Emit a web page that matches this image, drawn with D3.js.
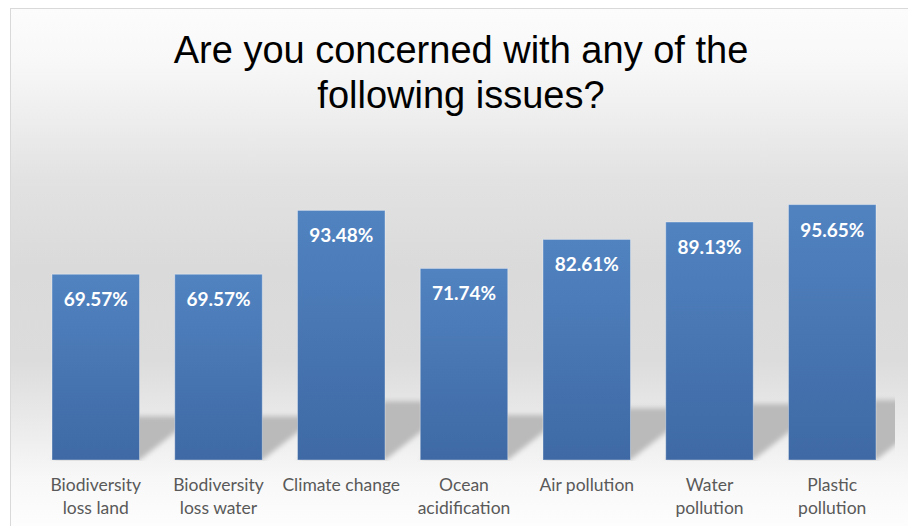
<!DOCTYPE html>
<html>
<head>
<meta charset="utf-8">
<script src="https://cdn.jsdelivr.net/npm/d3@7"></script>
<style>
  body { margin: 0; background: #fff; }
  svg { display: block; }
</style>
</head>
<body>
<svg width="908" height="526"></svg>
<script>
// chart data
var categories = ["Biodiversity loss land", "Biodiversity loss water", "Climate change",
    "Ocean acidification", "Air pollution", "Water pollution", "Plastic pollution"];
var tickLines = [["Biodiversity", "loss land"], ["Biodiversity", "loss water"], ["Climate change"],
    ["Ocean", "acidification"], ["Air pollution"], ["Water", "pollution"], ["Plastic", "pollution"]];
var values = [69.57, 69.57, 93.48, 71.74, 82.61, 89.13, 95.65];
var titleLines = ["Are you concerned with any of the", "following issues?"];

var data = categories.map((c, i) => ({ cat: c, value: values[i], lines: tickLines[i] }));

var svg = d3.select('svg');
var defs = svg.append('defs');

// background gradient of the chart frame
var bg = defs.append('linearGradient')
    .attr('id', 'bg')
    .attr('gradientUnits', 'userSpaceOnUse')
    .attr('x1', 0).attr('y1', 8).attr('x2', 0).attr('y2', 526);
[[8, '#fcfcfc'], [60, '#f8f8f8'], [110, '#efefef'], [180, '#e2e2e2'], [270, '#dadada'],
 [360, '#dcdcdc'], [430, '#ececec'], [480, '#f8f8f8'], [526, '#fdfdfd']].forEach(s => {
    bg.append('stop').attr('offset', (s[0] - 8) / 518).attr('stop-color', s[1]);
});

var barGrad = defs.append('linearGradient')
    .attr('id', 'barGrad')
    .attr('x1', 0).attr('y1', 0).attr('x2', 0).attr('y2', 1);
barGrad.append('stop').attr('offset', 0).attr('stop-color', '#5183c1');
barGrad.append('stop').attr('offset', 1).attr('stop-color', '#3e69a4');

defs.append('filter')
    .attr('id', 'blur')
    .attr('x', '-20%').attr('y', '-20%').attr('width', '140%').attr('height', '140%')
    .append('feGaussianBlur').attr('stdDeviation', 2.5);

defs.append('clipPath')
    .attr('id', 'plotClip')
    .append('rect')
    .attr('x', 34).attr('y', 150).attr('width', 861).attr('height', 311);

svg.append('rect')
    .attr('x', 10.5).attr('y', 8.5)
    .attr('width', 920).attr('height', 540)
    .attr('fill', 'url(#bg)')
    .attr('stroke', '#d9d9d9')
    .attr('stroke-width', 1);

var x = d3.scaleBand()
    .domain(categories)
    .range([34.4, 893.6])
    .paddingInner(0.287)
    .paddingOuter(0.1435);

var y = d3.scaleLinear()
    .domain([0, 100])
    .range([460, 193]);

// perspective shadows behind bars
svg.append('g')
    .attr('clip-path', 'url(#plotClip)')
    .selectAll('polygon')
    .data(data)
    .join('polygon')
    .attr('points', d => {
        var L = x(d.cat), R = L + x.bandwidth(), base = y(0);
        var h = base - y(d.value);
        var sh = 0.235 * h, dx = 0.3 * h;
        return [[L, base], [R, base], [R + dx, base - sh], [L + dx, base - sh]].join(' ');
    })
    .attr('fill', '#bababa')
    .attr('filter', 'url(#blur)');

svg.append('g')
    .selectAll('rect')
    .data(data)
    .join('rect')
    .attr('x', d => x(d.cat))
    .attr('y', d => y(d.value))
    .attr('width', x.bandwidth())
    .attr('height', d => y(0) - y(d.value))
    .attr('fill', 'url(#barGrad)')
    .attr('stroke', 'rgba(255,255,255,0.35)')
    .attr('stroke-width', 1);

svg.append('g')
    .selectAll('text')
    .data(data)
    .join('text')
    .attr('x', d => x(d.cat) + x.bandwidth() / 2)
    .attr('y', d => y(d.value) + 32)
    .attr('text-anchor', 'middle')
    .attr('fill', '#fff')
    .style('font-family', 'Lato, "Open Sans", sans-serif')
    .style('font-weight', 'bold')
    .style('font-size', '19px')
    .text(d => d.value.toFixed(2) + '%');

// category labels
var ticks = svg.append('g')
    .selectAll('text')
    .data(data)
    .join('text')
    .attr('x', d => x(d.cat) + x.bandwidth() / 2)
    .attr('y', 491)
    .attr('text-anchor', 'middle')
    .attr('fill', '#595959')
    .style('font-family', 'Lato, "Open Sans", sans-serif')
    .style('font-size', '17.5px');

ticks.selectAll('tspan')
    .data(d => d.lines.map(l => ({ line: l, x: x(d.cat) + x.bandwidth() / 2 })))
    .join('tspan')
    .attr('x', t => t.x)
    .attr('dy', (t, i) => i === 0 ? 0 : 23)
    .text(t => t.line);

svg.append('g')
    .selectAll('text')
    .data(titleLines)
    .join('text')
    .attr('x', 461)
    .attr('y', (d, i) => 63 + i * 45)
    .attr('text-anchor', 'middle')
    .attr('fill', '#000')
    .style('font-family', '"Liberation Sans", Arial, sans-serif')
    .style('font-size', '38px')
    .text(d => d);
</script>
</body>
</html>
